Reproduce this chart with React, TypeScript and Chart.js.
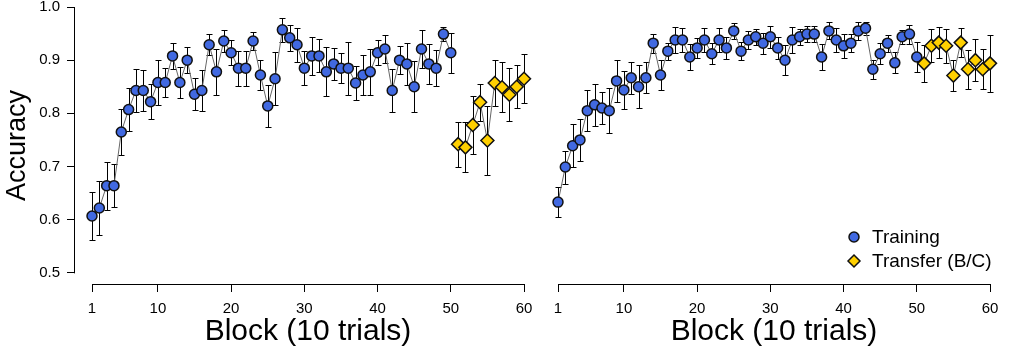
import React, { useEffect, useRef } from 'react';
import { Chart, registerables } from 'chart.js';

Chart.register(...registerables);

// ---------- data ----------
const xTicks = [1, 10, 20, 30, 40, 50, 60];
const yTicks = [0.5, 0.6, 0.7, 0.8, 0.9, 1.0];

const trainBlocks = [
  1, 2, 3, 4, 5, 6, 7, 8, 9, 10, 11, 12, 13, 14, 15, 16, 17, 18, 19, 20,
  21, 22, 23, 24, 25, 26, 27, 28, 29, 30, 31, 32, 33, 34, 35, 36, 37, 38, 39, 40,
  41, 42, 43, 44, 45, 46, 47, 48, 49, 50,
];
const transferBlocks = [51, 52, 53, 54, 55, 56, 57, 58, 59, 60];

// Left panel
const leftTrainAcc = [
  0.607, 0.622, 0.664, 0.664, 0.765, 0.807, 0.843, 0.843, 0.822, 0.858,
  0.858, 0.908, 0.858, 0.900, 0.836, 0.843, 0.929, 0.878, 0.936, 0.914,
  0.885, 0.885, 0.936, 0.872, 0.814, 0.865, 0.957, 0.942, 0.929, 0.885,
  0.908, 0.908, 0.878, 0.893, 0.885, 0.885, 0.857, 0.872, 0.878, 0.914,
  0.921, 0.843, 0.900, 0.893, 0.850, 0.921, 0.893, 0.885, 0.949, 0.914,
];
const leftTrainErr = [
  0.045, 0.05, 0.045, 0.04, 0.044, 0.04, 0.04, 0.038, 0.033, 0.043,
  0.027, 0.024, 0.029, 0.025, 0.03, 0.039, 0.02, 0.043, 0.02, 0.024,
  0.033, 0.033, 0.017, 0.028, 0.04, 0.05, 0.022, 0.025, 0.032, 0.032,
  0.036, 0.031, 0.046, 0.03, 0.028, 0.05, 0.032, 0.038, 0.043, 0.023,
  0.026, 0.04, 0.026, 0.04, 0.048, 0.036, 0.037, 0.034, 0.013, 0.038,
];
const leftTransferAcc = [0.742, 0.736, 0.778, 0.821, 0.749, 0.857, 0.849, 0.835, 0.850, 0.865];
const leftTransferErr = [0.042, 0.047, 0.055, 0.035, 0.065, 0.044, 0.047, 0.05, 0.04, 0.046];

// Right panel
const rightTrainAcc = [
  0.633, 0.699, 0.739, 0.750, 0.805, 0.816, 0.810, 0.805, 0.861, 0.844,
  0.867, 0.850, 0.867, 0.932, 0.872, 0.917, 0.938, 0.938, 0.906, 0.923,
  0.938, 0.912, 0.938, 0.923, 0.955, 0.917, 0.938, 0.944, 0.932, 0.944,
  0.923, 0.900, 0.938, 0.944, 0.949, 0.949, 0.906, 0.955, 0.938, 0.927,
  0.932, 0.955, 0.960, 0.883, 0.912, 0.932, 0.895, 0.944, 0.949, 0.906,
];
const rightTrainErr = [
  0.028, 0.031, 0.04, 0.04, 0.039, 0.039, 0.031, 0.042, 0.039, 0.036,
  0.03, 0.04, 0.029, 0.018, 0.028, 0.016, 0.024, 0.023, 0.025, 0.018,
  0.023, 0.02, 0.023, 0.021, 0.015, 0.017, 0.017, 0.015, 0.02, 0.021,
  0.021, 0.028, 0.025, 0.015, 0.015, 0.015, 0.025, 0.016, 0.022, 0.022,
  0.017, 0.017, 0.012, 0.018, 0.02, 0.016, 0.02, 0.013, 0.018, 0.029,
];
const rightTransferAcc = [0.894, 0.927, 0.933, 0.927, 0.871, 0.933, 0.883, 0.900, 0.883, 0.894];
const rightTransferErr = [0.035, 0.031, 0.029, 0.032, 0.029, 0.027, 0.037, 0.039, 0.038, 0.053];

const seriesLabels = ['Training', 'Transfer (B/C)'];
const xTitle = 'Block (10 trials)';
const yTitle = 'Accuracy';

// ---------- styling ----------
const FONT = 'Arial, "Liberation Sans", Helvetica, sans-serif';
const X_MIN = -1.322;
const X_MAX = 62.32;
const Y_MIN = 0.479;
const Y_MAX = 1.0;
const BLUE = '#4169E1';
const GOLD = '#FFD000';
const EDGE = '#111111';

const errorBarsPlugin = {
  id: 'errorBars',
  beforeDatasetsDraw(chart: any) {
    const { ctx } = chart;
    const ys = chart.scales.y;
    ctx.save();
    ctx.strokeStyle = '#000';
    ctx.lineWidth = 1;
    chart.data.datasets.forEach((ds: any, i: number) => {
      const meta = chart.getDatasetMeta(i);
      const errs: number[] = ds.errors || [];
      meta.data.forEach((pt: any, j: number) => {
        const v = ds.data[j].y;
        const e = errs[j] || 0;
        const x = Math.round(pt.x) + 0.5;
        const yTop = Math.round(ys.getPixelForValue(v + e)) + 0.5;
        const yBot = Math.round(ys.getPixelForValue(v - e)) + 0.5;
        ctx.beginPath();
        ctx.moveTo(x, yTop);
        ctx.lineTo(x, yBot);
        ctx.moveTo(x - 3, yTop);
        ctx.lineTo(x + 3, yTop);
        ctx.moveTo(x - 3, yBot);
        ctx.lineTo(x + 3, yBot);
        ctx.stroke();
      });
    });
    ctx.restore();
  },
};

const axisLinesPlugin = {
  id: 'axisLines',
  afterDraw(chart: any) {
    const { ctx, chartArea } = chart;
    const xs = chart.scales.x;
    const ys = chart.scales.y;
    const opts = chart.options.plugins.axisLines || {};
    ctx.save();
    ctx.strokeStyle = '#000';
    ctx.lineWidth = 1;
    ctx.beginPath();
    const yb = Math.round(chartArea.bottom) + 0.5;
    ctx.moveTo(xs.getPixelForValue(xTicks[0]), yb);
    ctx.lineTo(xs.getPixelForValue(xTicks[xTicks.length - 1]) + 0.5, yb);
    if (opts.yAxis) {
      const xl = Math.round(chartArea.left) - 0.5;
      ctx.moveTo(xl, ys.getPixelForValue(yTicks[0]) + 0.5);
      ctx.lineTo(xl, ys.getPixelForValue(yTicks[yTicks.length - 1]));
    }
    ctx.stroke();
    ctx.restore();
  },
};

function drawMarker(ctx: CanvasRenderingContext2D, style: string, x: number, y: number, r: number) {
  ctx.beginPath();
  if (style === 'rectRot') {
    ctx.moveTo(x - r, y);
    ctx.lineTo(x, y - r);
    ctx.lineTo(x + r, y);
    ctx.lineTo(x, y + r);
    ctx.closePath();
  } else {
    ctx.arc(x, y, r, 0, Math.PI * 2);
  }
  ctx.fill();
  ctx.stroke();
}

const customLegendPlugin = {
  id: 'customLegend',
  afterDraw(chart: any) {
    const opts = chart.options.plugins.customLegend || {};
    if (!opts.show) return;
    const { ctx, chartArea } = chart;
    const mx = chartArea.right - 153;
    const rows = [chartArea.bottom - 47, chartArea.bottom - 23];
    ctx.save();
    ctx.font = `19px ${FONT}`;
    ctx.textBaseline = 'middle';
    ctx.textAlign = 'left';
    chart.data.datasets
      .slice()
      .sort((a: any, b: any) => a.legendIndex - b.legendIndex)
      .forEach((ds: any, i: number) => {
        ctx.fillStyle = ds.pointBackgroundColor;
        ctx.strokeStyle = ds.pointBorderColor;
        ctx.lineWidth = 1.5;
        drawMarker(ctx, ds.pointStyle, mx, rows[i], ds.pointStyle === 'rectRot' ? 6 : 5);
        ctx.fillStyle = '#000';
        ctx.fillText(ds.label, mx + 18, rows[i] + 1);
      });
    ctx.restore();
  },
};

function makeDatasets(trainAcc: number[], trainErr: number[], trAcc: number[], trErr: number[]) {
  return [
    {
      label: seriesLabels[0],
      legendIndex: 0,
      order: 1,
      data: trainBlocks.map((b, i) => ({ x: b, y: trainAcc[i] })),
      errors: trainErr,
      borderColor: '#666666',
      borderWidth: 1,
      pointStyle: 'circle',
      pointRadius: 5,
      pointBackgroundColor: BLUE,
      pointBorderColor: EDGE,
      pointBorderWidth: 1.5,
      showLine: true,
      tension: 0,
    },
    {
      label: seriesLabels[1],
      legendIndex: 1,
      order: 0,
      data: transferBlocks.map((b, i) => ({ x: b, y: trAcc[i] })),
      errors: trErr,
      borderColor: '#666666',
      borderWidth: 1,
      pointStyle: 'rectRot',
      pointRadius: 6.5,
      pointBackgroundColor: GOLD,
      pointBorderColor: EDGE,
      pointBorderWidth: 1.5,
      showLine: true,
      tension: 0,
    },
  ];
}

function makeConfig(datasets: any[], showYAxis: boolean, showLegend: boolean, padding: any): any {
  return {
    type: 'scatter',
    data: { datasets },
    options: {
      animation: false,
      responsive: false,
      layout: { padding, autoPadding: false },
      plugins: {
        legend: { display: false },
        tooltip: { enabled: false },
        axisLines: { yAxis: showYAxis },
        customLegend: { show: showLegend },
      },
      scales: {
        x: {
          type: 'linear',
          min: X_MIN,
          max: X_MAX,
          afterBuildTicks: (s: any) => {
            s.ticks = xTicks.map((v) => ({ value: v }));
          },
          afterFit: (s: any) => {
            s.height = 71;
            s.paddingLeft = 0;
            s.paddingRight = 0;
          },
          border: { display: false },
          grid: {
            display: true,
            drawOnChartArea: false,
            drawTicks: true,
            tickLength: 8,
            color: '#000',
            lineWidth: 1,
          },
          ticks: {
            font: { family: FONT, size: 15 },
            color: '#000',
            padding: 8,
            maxRotation: 0,
            autoSkip: false,
            callback: (v: any) => String(v),
          },
          title: {
            display: true,
            text: xTitle,
            color: '#000',
            font: { family: FONT, size: 30, lineHeight: 1 },
            padding: { top: 0, bottom: 8 },
          },
        },
        y: {
          type: 'linear',
          display: showYAxis,
          min: Y_MIN,
          max: Y_MAX,
          afterBuildTicks: (s: any) => {
            s.ticks = yTicks.map((v) => ({ value: v }));
          },
          afterFit: (s: any) => {
            if (showYAxis) {
              s.width = 75;
            } else {
              s.width = 0;
            }
            s.paddingTop = 0;
            s.paddingBottom = 0;
          },
          border: { display: false },
          grid: {
            display: true,
            drawOnChartArea: false,
            drawTicks: true,
            tickLength: 8,
            color: '#000',
            lineWidth: 1,
          },
          ticks: {
            font: { family: FONT, size: 15 },
            color: '#000',
            padding: 7,
            autoSkip: false,
            callback: (v: any) => Number(v).toFixed(1),
          },
          title: {
            display: true,
            text: yTitle,
            color: '#000',
            font: { family: FONT, size: 27, lineHeight: 1 },
            padding: { top: 4, bottom: 0 },
          },
        },
      },
    },
    plugins: [errorBarsPlugin, axisLinesPlugin, customLegendPlugin],
  };
}

function Panel(props: {
  left: number;
  width: number;
  trainAcc: number[];
  trainErr: number[];
  trAcc: number[];
  trErr: number[];
  showYAxis: boolean;
  showLegend: boolean;
  padding: any;
}) {
  const ref = useRef<HTMLCanvasElement | null>(null);
  useEffect(() => {
    if (!ref.current) return;
    const chart = new Chart(
      ref.current,
      makeConfig(
        makeDatasets(props.trainAcc, props.trainErr, props.trAcc, props.trErr),
        props.showYAxis,
        props.showLegend,
        props.padding
      )
    );
    return () => chart.destroy();
  }, []);
  return (
    <canvas
      ref={ref}
      width={props.width}
      height={355}
      style={{ position: 'absolute', left: props.left, top: 0, width: props.width, height: 355 }}
    />
  );
}

export default function App() {
  return (
    <div
      style={{
        position: 'fixed',
        left: 0,
        top: 0,
        width: 1013,
        height: 355,
        background: '#fff',
        overflow: 'hidden',
      }}
    >
      <Panel
        left={0}
        width={545}
        trainAcc={leftTrainAcc}
        trainErr={leftTrainErr}
        trAcc={leftTransferAcc}
        trErr={leftTransferErr}
        showYAxis={true}
        showLegend={false}
        padding={{ top: 7, right: 4, bottom: 0, left: 0 }}
      />
      <Panel
        left={530}
        width={483}
        trainAcc={rightTrainAcc}
        trainErr={rightTrainErr}
        trAcc={rightTransferAcc}
        trErr={rightTransferErr}
        showYAxis={false}
        showLegend={true}
        padding={{ top: 7, right: 6, bottom: 0, left: 11 }}
      />
    </div>
  );
}
